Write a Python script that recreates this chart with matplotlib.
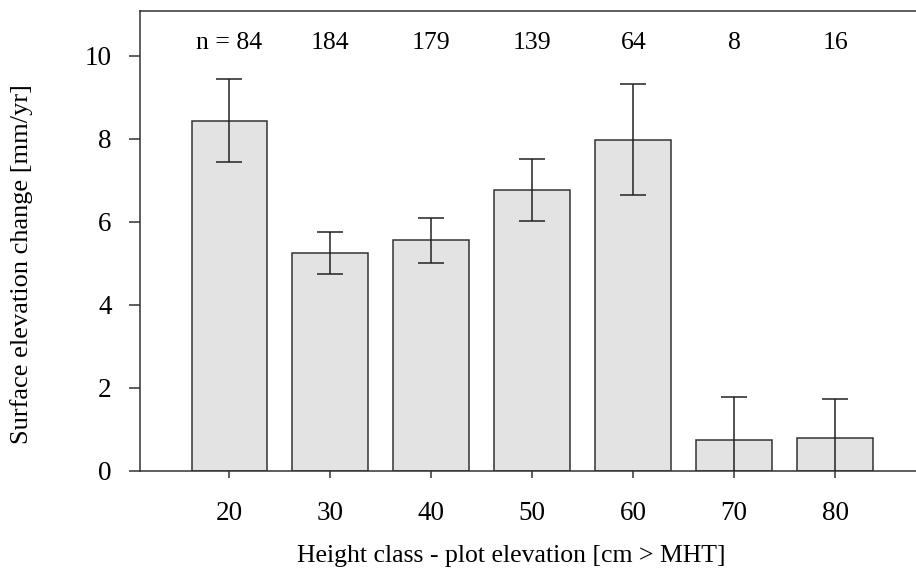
import matplotlib
matplotlib.use("Agg")
import matplotlib.pyplot as plt
import numpy as np

# Height classes (cm above mean high tide) and surface elevation change
height_class = ["20", "30", "40", "50", "60", "70", "80"]
elev_change = [8.44, 5.24, 5.55, 6.77, 7.98, 0.74, 0.80]
elev_err = [1.01, 0.51, 0.55, 0.75, 1.34, 1.04, 0.93]
n_plots = ["n = 84", "184", "179", "139", "64", "8", "16"]

plt.rcParams["font.family"] = ["Liberation Serif", "DejaVu Serif"]

W, H = 916, 581
fig = plt.figure(figsize=(W / 100, H / 100), dpi=100)
ax = fig.add_axes([139.5 / W, (H - 470.7) / H, 1 - 139.5 / W, (470.7 - 11) / H])

x = np.arange(len(height_class))
ax.bar(x, elev_change, width=0.75, color="#e3e3e3", edgecolor="#333333",
       linewidth=1.1, zorder=2)
ax.errorbar(x, elev_change, yerr=elev_err, fmt="none", ecolor="#222222",
            elinewidth=1.1, capsize=9.5, capthick=1.1, zorder=3)

for xi, lab in zip(x, n_plots):
    ax.text(xi, 10.31, lab, ha="center", va="center", fontsize=18.5)

ax.set_xlim(-0.89, 6.8)
ax.set_ylim(0, 11.08)
ax.set_xticks(x)
ax.set_xticklabels(height_class)
ax.set_yticks([0, 2, 4, 6, 8, 10])

ax.spines["right"].set_visible(False)
for s in ["left", "top", "bottom"]:
    ax.spines[s].set_color("#333333")
    ax.spines[s].set_linewidth(1.1)

ax.tick_params(axis="both", direction="out", width=1.1,
               color="#333333", labelsize=19.5)
ax.tick_params(axis="x", length=5, pad=17)
ax.tick_params(axis="y", length=8, pad=12)

fig.text(22 / W, 1 - 264 / H, "Surface elevation change [mm/yr]",
         rotation=90, ha="center", va="center", fontsize=19)
fig.text(511 / W, 1 - 556 / H, "Height class - plot elevation [cm > MHT]",
         ha="center", va="center", fontsize=18.5)

fig.savefig("out.png", dpi=100)
